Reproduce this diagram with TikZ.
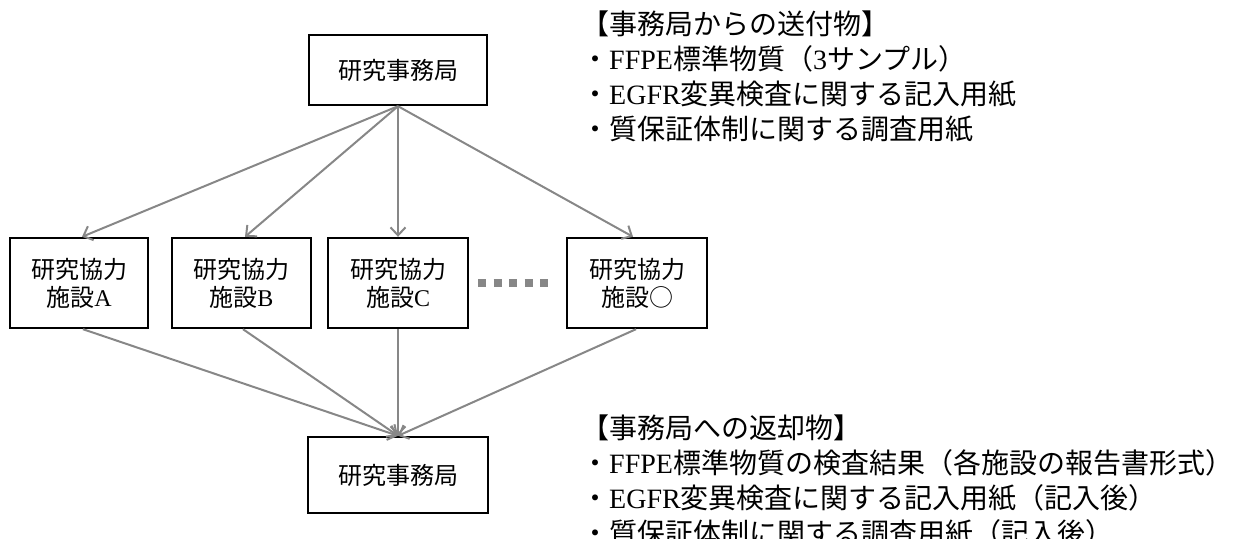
\documentclass[tikz,border=0pt]{standalone}
\usepackage{fontspec}
\setmainfont{Liberation Serif}
\newfontfamily\jpf{Noto Sans CJK JP}
\usetikzlibrary{arrows.meta}
\newcommand{\J}[1]{{\jpf #1}}
\definecolor{linegray}{RGB}{135,135,135}
\tikzset{
  boxnode/.style={draw=black, line width=2.4pt, fill=white, align=center, inner sep=0pt,
    font=\fontsize{24}{28}\selectfont},
  arr/.style={draw=linegray, line width=2pt, -{Straight Barb[length=8pt,width=15pt,line width=2pt]}},
  txt/.style={anchor=west, inner sep=0pt, font=\fontsize{28}{32}\selectfont},
}
\begin{document}
\begin{tikzpicture}[x=1pt,y=-1pt]
\useasboundingbox (0,0) rectangle (1233,538);
% boxes
\node[boxnode, minimum width=178pt, minimum height=70pt] (top) at (398,70) {\J{研究事務局}};
\node[boxnode, minimum width=180pt, minimum height=76pt] (bot) at (398,475) {\J{研究事務局}};
\node[boxnode, minimum width=138pt, minimum height=90pt] (fa) at (79,283) {\J{研究協力}\\\J{施設}A};
\node[boxnode, minimum width=139pt, minimum height=90pt] (fb) at (241.5,283) {\J{研究協力}\\\J{施設}B};
\node[boxnode, minimum width=140pt, minimum height=90pt] (fc) at (398,283) {\J{研究協力}\\\J{施設}C};
\node[boxnode, minimum width=140pt, minimum height=90pt] (fo) at (637,283) {\J{研究協力}\\\J{施設○}};
% dots
\coordinate (d1) at (478,283);
\coordinate (d2) at (549,283);
\draw[linegray, line width=8pt, dash pattern=on 8pt off 7.5pt] (d1) -- (d2);
% arrows down
\draw[arr] (top.south) -- ([xshift=3pt]fa.north);
\draw[arr] (top.south) -- ([xshift=3.5pt]fb.north);
\draw[arr] (top.south) -- (fc.north);
\draw[arr] (top.south) -- ([xshift=-4pt]fo.north);
% arrows up to bottom
\draw[arr] ([xshift=4pt]fa.south) -- (bot.north);
\draw[arr] ([xshift=1.5pt]fb.south) -- (bot.north);
\draw[arr] (fc.south) -- (bot.north);
\draw[arr] ([xshift=-1pt]fo.south) -- (bot.north);
% texts top
\node[txt] (t1) at (581,24) {\J{【事務局からの送付物】}};
\node[txt] (t2) at (581,59) {\J{・}FFPE\J{標準物質（}3\J{サンプル）}};
\node[txt] (t3) at (581,94) {\J{・}EGFR\J{変異検査に関する記入用紙}};
\node[txt] (t4) at (581,129) {\J{・質保証体制に関する調査用紙}};
% texts bottom
\node[txt] (b1) at (581,428) {\J{【事務局への返却物】}};
\node[txt] (b2) at (581,463) {\J{・}FFPE\J{標準物質の検査結果（各施設の報告書形式）}};
\node[txt] (b3) at (581,498) {\J{・}EGFR\J{変異検査に関する記入用紙（記入後）}};
\node[txt] (b4) at (581,533) {\J{・質保証体制に関する調査用紙（記入後）}};
\end{tikzpicture}
\end{document}
